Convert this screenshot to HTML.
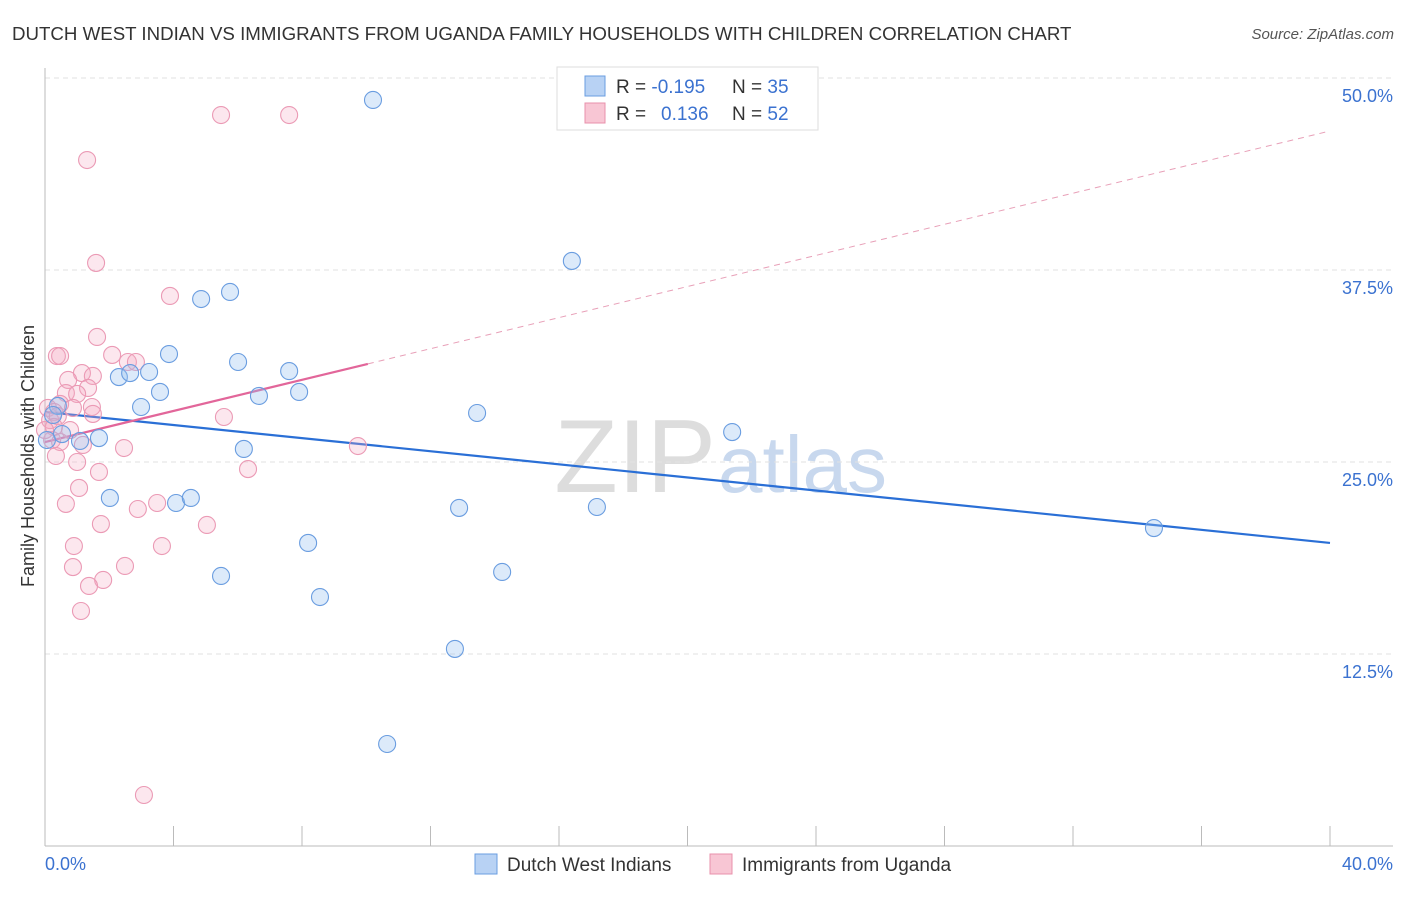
<!DOCTYPE html>
<html><head><meta charset="utf-8"><style>
body{margin:0;background:#fff;font-family:"Liberation Sans",sans-serif}
svg text{font-family:"Liberation Sans",sans-serif}
</style></head><body>
<svg id="chart" width="1406" height="892" xmlns="http://www.w3.org/2000/svg">
<text x="12" y="40" font-size="18.7" fill="#333">DUTCH WEST INDIAN VS IMMIGRANTS FROM UGANDA FAMILY HOUSEHOLDS WITH CHILDREN CORRELATION CHART</text>
<text x="1394" y="39" font-size="15" fill="#555" font-style="italic" text-anchor="end">Source: ZipAtlas.com</text>
<text x="716" y="492" font-size="104" fill="#ddd" text-anchor="end" font-family="Liberation Serif">ZIP</text>
<text x="718" y="492" font-size="80" fill="#c8d8ee">atlas</text>
<g id="grid"></g>
<g id="axes"></g>
<g id="lines"></g>
<g id="pts"></g>
<text transform="translate(34,456) rotate(-90)" font-size="18" fill="#333" text-anchor="middle">Family Households with Children</text>
<text x="45" y="870" font-size="18" fill="#3b72d0">0.0%</text>
<text x="1393" y="870" font-size="18" fill="#3b72d0" text-anchor="end">40.0%</text>
<g>
<rect x="557" y="67" width="261" height="63" fill="#fff" stroke="#ddd"/>
<rect x="585" y="76" width="20" height="20" fill="#b8d2f4" stroke="#6a9de0"/>
<rect x="585" y="103" width="20" height="20" fill="#f8c6d4" stroke="#e890ab"/>
<text x="616" y="93" font-size="19" fill="#333">R = <tspan fill="#3b72d0">-0.195</tspan><tspan x="732">N = </tspan><tspan fill="#3b72d0">35</tspan></text>
<text x="616" y="120" font-size="19" fill="#333">R = <tspan x="661" fill="#3b72d0">0.136</tspan><tspan x="732">N = </tspan><tspan fill="#3b72d0">52</tspan></text>
</g>
<g>
<rect x="475" y="854" width="22" height="20" fill="#b8d2f4" stroke="#6a9de0"/>
<text x="507" y="871" font-size="19" fill="#333">Dutch West Indians</text>
<rect x="710" y="854" width="22" height="20" fill="#f8c6d4" stroke="#e890ab"/>
<text x="742" y="871" font-size="19" fill="#333">Immigrants from Uganda</text>
</g>
</svg>
<script>
const yTicks=[12.5,25.0,37.5,50.0];
const xTicks=[0,4,8,12,16,20,24,28,32,36,40];
const blueX=[10.21,16.40,5.76,4.86,3.86,6.01,3.24,2.30,2.65,7.60,3.58,6.66,7.91,2.99,13.45,21.39,1.68,1.09,0.53,0.40,0.25,6.19,2.02,4.08,4.54,12.89,17.18,8.19,5.48,14.23,8.56,12.76,10.65,34.52,0.06];
const blueY=[48.57,38.09,36.07,35.61,32.03,31.51,30.86,30.53,30.79,30.92,29.56,29.30,29.56,28.58,28.19,26.95,26.56,26.37,26.82,28.65,28.06,25.85,22.66,22.33,22.66,22.01,22.07,19.73,17.58,17.84,16.21,12.83,6.64,20.70,26.43];
const pinkX=[5.48,7.60,1.31,1.59,3.89,1.62,0.37,0.47,2.09,2.58,2.83,1.15,0.72,1.49,0.65,1.34,1.00,0.47,1.46,0.87,1.49,0.09,0.28,0.16,0.40,5.57,0.28,0.78,0.22,0.47,1.18,2.46,9.74,0.34,1.00,1.68,6.32,1.06,0.65,3.49,2.89,1.74,5.04,0.90,3.64,0.87,2.49,1.81,1.37,1.12,3.08,0.0];
const pinkY=[47.59,47.59,44.66,37.96,35.81,33.14,31.90,31.90,31.97,31.51,31.51,30.79,30.34,30.60,29.49,29.82,29.43,28.78,28.58,28.52,28.13,28.52,28.26,27.73,27.99,27.93,27.28,27.08,26.43,26.30,26.11,25.91,26.04,25.39,25.00,24.35,24.54,23.31,22.27,22.33,21.94,20.96,20.90,19.53,19.53,18.16,18.23,17.32,16.93,15.30,3.32,27.08];
const blueTrend=[28.26,19.73]; // y at x=0 and x=40
const pinkTrend=[26.30,46.55];
const pinkSolidEnd=10.05;
const NS='http://www.w3.org/2000/svg';
const sx=v=>45+v/40*1285, sy=v=>846-v/50*768;
function mk(t,a,p){const e=document.createElementNS(NS,t);for(const k in a)e.setAttribute(k,a[k]);p.appendChild(e);return e;}
const grid=document.getElementById('grid'),axes=document.getElementById('axes'),lines=document.getElementById('lines'),pts=document.getElementById('pts');
yTicks.forEach(v=>{
 const l=mk('line',{x1:45,x2:1393,y1:sy(v),y2:sy(v),stroke:'#e2e2e2','stroke-dasharray':'5,4'},grid);
 
 
 const t=mk('text',{x:1393,y:sy(v)+24,'font-size':18,fill:'#3b72d0','text-anchor':'end'},grid);
 t.textContent=v.toFixed(1)+'%';
 
 
});
const g0=mk('line',{x1:45,x2:1393,y1:78,y2:78,stroke:'#e2e2e2','stroke-dasharray':'5,4'},grid);
const ax=mk('line',{x1:45,x2:45,y1:68,y2:846,stroke:'#bbb'},axes);


const bx=mk('line',{x1:45,x2:1393,y1:846,y2:846,stroke:'#bbb'},axes);


xTicks.forEach(v=>{
 const l=mk('line',{x1:sx(v),x2:sx(v),y1:826,y2:846,stroke:'#bbb'},axes);
 
 
});
function pt(x,y,fill,stroke,name){
 const c=mk('circle',{cx:sx(x),cy:sy(y),r:8.5,fill:fill,stroke:stroke,'stroke-width':1.1},pts);
 
 
}
pinkX.forEach((x,i)=>pt(x,pinkY[i],'rgba(245,170,195,0.28)','#eb9ab5','uganda-point'));
blueX.forEach((x,i)=>pt(x,blueY[i],'rgba(150,190,240,0.33)','#6a9de0','dutch-point'));
const bl=mk('line',{x1:sx(0),y1:sy(blueTrend[0]),x2:sx(40),y2:sy(blueTrend[1]),stroke:'#2a6fd6','stroke-width':2.2},lines);


const pAt=x=>pinkTrend[0]+(pinkTrend[1]-pinkTrend[0])*x/40;
const pd=mk('line',{x1:sx(pinkSolidEnd),y1:sy(pAt(pinkSolidEnd)),x2:sx(40),y2:sy(pinkTrend[1]),stroke:'#e8a0b8','stroke-width':1,'stroke-dasharray':'6,5'},lines);


const pl=mk('line',{x1:sx(0),y1:sy(pinkTrend[0]),x2:sx(pinkSolidEnd),y2:sy(pAt(pinkSolidEnd)),stroke:'#e2669a','stroke-width':2.2},lines);


</script>
</body></html>
